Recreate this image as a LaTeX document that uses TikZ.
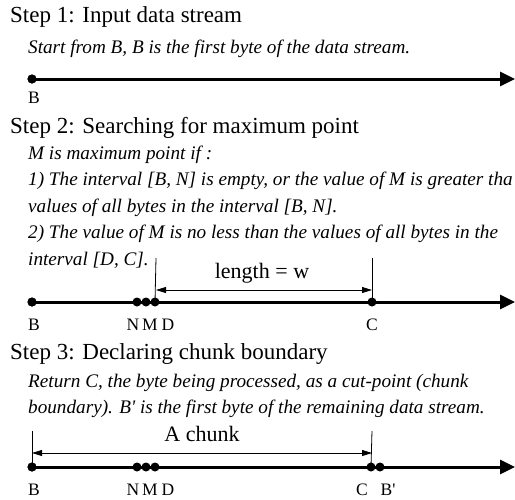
\documentclass[tikz,border=0pt]{standalone}
\usepackage{fontspec}
\setmainfont{Liberation Serif}[Ligatures=TeXOff]
\usetikzlibrary{arrows.meta}
\begin{document}
\begin{tikzpicture}[x=1pt,y=-1pt,
  steptitle/.style={anchor=base west,inner sep=0pt,font=\fontsize{23}{27}\selectfont},
  note/.style={anchor=base west,inner sep=0pt,font=\fontsize{19.2}{26}\selectfont\itshape},
  lbl/.style={anchor=base,inner sep=0pt,font=\fontsize{17.5}{21}\selectfont},
  dimlbl/.style={anchor=base,inner sep=0pt,font=\fontsize{22}{25}\selectfont},
  bytept/.style={circle,fill=black,inner sep=0pt,minimum size=9pt},
  stream/.style={line width=3pt,-{Triangle[length=15pt,width=14pt]}},
  tick/.style={line width=0.8pt},
  dimline/.style={line width=0.8pt,{Triangle[length=10pt,width=6pt]}-{Triangle[length=10pt,width=6pt]}}]
\useasboundingbox (0,0) rectangle (515,499);

% ---- Step 1
\node[steptitle] (t1) at (10,22) {Step 1: Input data stream};
\node[note] (n1) at (28,53) {Start from B, B is the first byte of the data stream.};
\coordinate (e1) at (515,79);
\node[bytept] (b1) at (32,79) {};
\draw[stream] (b1.center) -- (e1);
\node[bytept] at (b1) {};
\node[lbl] (lb1) at (34,103) {B};

% ---- Step 2
\node[steptitle] (t2) at (10,133) {Step 2: Searching for maximum point};
\node[note] (n2a) at (28,159) {M is maximum point if :};
\node[note] (n2b) at (28,185.5) {1) The interval [B, N] is empty, or the value of M is greater tha};
\node[note] (n2c) at (28,212) {values of all bytes in the interval [B, N].};
\node[note] (n2d) at (28,238.5) {2) The value of M is no less than the values of all bytes in the};
\node[note] (n2e) at (28,265) {interval [D, C].};
\coordinate (e2) at (515,302);
\node[bytept] (b2) at (32,302) {};
\draw[stream] (b2.center) -- (e2);
\node[bytept] at (b2) {};
\node[bytept] (nn2) at (137,302) {};
\node[bytept] (m2) at (146,302) {};
\node[bytept] (d2) at (155,302) {};
\node[bytept] (c2) at (372,302) {};
\coordinate (dt2) at (156,258);
\coordinate (ct2) at (372,258);
\draw[tick] (dt2) -- (d2.center);
\draw[tick] (ct2) -- (c2.center);
\coordinate (da2) at (156,290);
\coordinate (ca2) at (372,290);
\draw[dimline] (da2) -- (ca2);
\node[dimlbl] (w2) at (262,278) {length = w};
\node[lbl] (lb2) at (34,330) {B};
\node[lbl] (ln2) at (133,330) {N};
\node[lbl] (lm2) at (150,330) {M};
\node[lbl] (ld2) at (168,330) {D};
\node[lbl] (lc2) at (372,330) {C};

% ---- Step 3
\node[steptitle] (t3) at (10,359) {Step 3: Declaring chunk boundary};
\node[note] (n3a) at (28,387) {Return C, the byte being processed, as a cut-point (chunk};
\node[note] (n3b) at (28,413) {boundary). B' is the first byte of the remaining data stream.};
\coordinate (e3) at (515,467);
\node[bytept] (b3) at (32,467) {};
\draw[stream] (b3.center) -- (e3);
\node[bytept] at (b3) {};
\node[bytept] (nn3) at (137,467) {};
\node[bytept] (m3) at (146,467) {};
\node[bytept] (d3) at (155,467) {};
\node[bytept] (c3) at (371,467) {};
\node[bytept] (bb3) at (380,467) {};
\coordinate (bt3) at (32,431);
\coordinate (ct3) at (372,431);
\draw[tick] (bt3) -- (b3.center);
\draw[tick] (ct3) -- (c3.center);
\coordinate (ba3) at (32,453);
\coordinate (ca3) at (372,453);
\draw[dimline] (ba3) -- (ca3);
\node[dimlbl] (ch3) at (202,441) {A chunk};
\node[lbl] (lb3) at (34,495) {B};
\node[lbl] (ln3) at (133,495) {N};
\node[lbl] (lm3) at (150,495) {M};
\node[lbl] (ld3) at (168,495) {D};
\node[lbl] (lc3) at (362,495) {C};
\node[lbl] (lbb3) at (388,495) {B'};
\end{tikzpicture}
\end{document}
